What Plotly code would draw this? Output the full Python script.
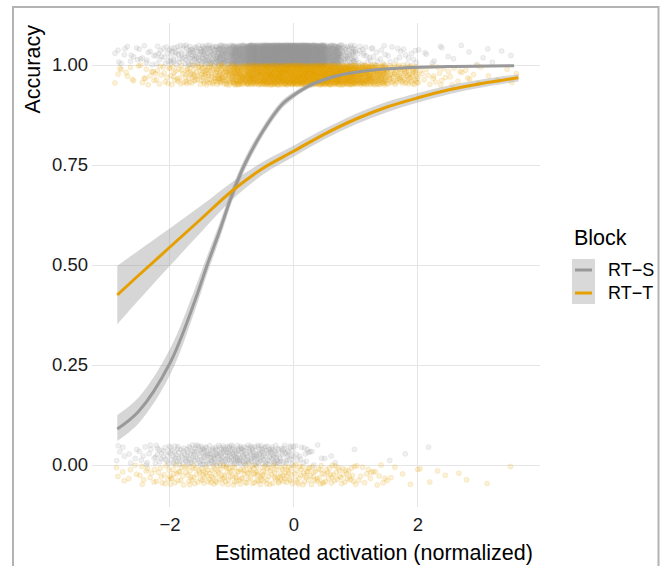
import plotly.graph_objects as go

# ---------------- data ----------------
# fitted curves (probability of a correct answer) with confidence band
rts_x  = [-2.85, -2.5, -2.0, -1.6, -1.4, -1.2, -1.0, -0.8, -0.5, -0.2, 0.0, 0.3, 0.7, 1.2, 1.8, 2.5, 3.55]
rts_y  = [0.090, 0.135, 0.255, 0.410, 0.500, 0.585, 0.675, 0.750, 0.835, 0.900, 0.925, 0.952, 0.973, 0.986, 0.993, 0.996, 0.998]
rts_lo = [0.060, 0.105, 0.225, 0.385, 0.478, 0.565, 0.658, 0.735, 0.823, 0.890, 0.917, 0.946, 0.969, 0.983, 0.991, 0.994, 0.996]
rts_hi = [0.125, 0.170, 0.290, 0.440, 0.523, 0.605, 0.692, 0.765, 0.847, 0.910, 0.933, 0.958, 0.977, 0.989, 0.995, 0.998, 0.999]

rtt_x  = [-2.85, -2.5, -2.0, -1.5, -1.0, -0.5, 0.0, 0.5, 1.0, 1.5, 2.0, 2.5, 3.0, 3.62]
rtt_y  = [0.425, 0.475, 0.545, 0.615, 0.685, 0.742, 0.785, 0.828, 0.865, 0.895, 0.918, 0.938, 0.953, 0.968]
rtt_lo = [0.352, 0.413, 0.498, 0.582, 0.663, 0.726, 0.771, 0.815, 0.852, 0.882, 0.906, 0.927, 0.943, 0.959]
rtt_hi = [0.498, 0.537, 0.592, 0.648, 0.707, 0.758, 0.799, 0.841, 0.878, 0.908, 0.930, 0.949, 0.963, 0.977]

# raw trials: counts per activation bin (estimated from the point clouds)
bin_edges = [-2.9, -2.5, -2.25, -2.0, -1.75, -1.5, -1.25, -1.0, -0.75, -0.5, -0.25,
             0.0, 0.25, 0.5, 0.75, 1.0, 1.25, 1.5, 2.0, 2.5, 3.0, 3.6]
rts_correct_counts = [12, 10, 14, 25, 38, 55, 85, 150, 300, 450, 500, 480, 360, 140, 45, 15, 10, 15, 8, 4, 5]
rts_error_counts   = [9, 10, 18, 26, 32, 38, 40, 42, 40, 36, 28, 12, 6, 2, 1, 0, 0, 2, 1, 0, 0]
rtt_correct_counts = [10, 10, 12, 18, 28, 40, 60, 100, 130, 150, 160, 165, 165, 160, 145, 115, 85, 80, 18, 12, 6]
rtt_error_counts   = [8, 9, 12, 16, 18, 22, 22, 22, 22, 22, 22, 20, 19, 17, 16, 9, 7, 6, 4, 2, 2]

blocks = ["RT\u2212S", "RT\u2212T"]
tick_x = [-2, 0, 2]
tick_y = [0, 0.25, 0.5, 0.75, 1.0]

# ---------------- styles ----------------
GREY = "#999999"
ORANGE = "#E69F00"
FONT = "Liberation Sans, Arial, Helvetica, sans-serif"


def vdc(n, base):
    q, denom = 0.0, 1.0
    while n:
        n, r = divmod(n, base)
        denom *= base
        q += r / denom
    return q


def strip(counts, accuracy, y_shift, seed):
    """spread the counted trials over each bin (deterministic jitter)."""
    xs, ys = [], []
    k = seed
    for i, c in enumerate(counts):
        lo, hi = bin_edges[i], bin_edges[i + 1]
        for _ in range(c):
            k += 1
            xs.append(lo + (hi - lo) * vdc(k, 2))
            ys.append(accuracy + y_shift + 0.05 * vdc(k, 3))
    return xs, ys


def pts(xs, ys, rgb, name):
    col = f"rgba({rgb},0.15)"
    return go.Scatter(x=xs, y=ys, mode="markers", name=name, showlegend=False,
                      hoverinfo="skip",
                      marker=dict(size=5, color=col, line=dict(width=1, color=col)))


fig = go.Figure()

# points
gx, gy = strip(rts_correct_counts, 1, 0.0, 11)
fig.add_trace(pts(gx, gy, "153,153,153", blocks[0]))
gx, gy = strip(rts_error_counts, 0, 0.0, 5011)
fig.add_trace(pts(gx, gy, "153,153,153", blocks[0]))
ox, oy = strip(rtt_correct_counts, 1, -0.05, 2011)
fig.add_trace(pts(ox, oy, "230,159,0", blocks[1]))
ox, oy = strip(rtt_error_counts, 0, -0.05, 7011)
fig.add_trace(pts(ox, oy, "230,159,0", blocks[1]))


def band(x, lo, hi, y, color, name):
    fig.add_trace(go.Scatter(x=x, y=lo, mode="lines", line=dict(width=0, shape="spline"),
                             showlegend=False, hoverinfo="skip"))
    fig.add_trace(go.Scatter(x=x, y=hi, mode="lines", line=dict(width=0, shape="spline"),
                             fill="tonexty", fillcolor="rgba(153,153,153,0.4)",
                             showlegend=False, hoverinfo="skip"))
    fig.add_trace(go.Scatter(x=x, y=y, mode="lines", name=name, showlegend=False,
                             line=dict(color=color, width=3, shape="spline")))


band(rts_x, rts_lo, rts_hi, rts_y, GREY, blocks[0])
band(rtt_x, rtt_lo, rtt_hi, rtt_y, ORANGE, blocks[1])

# panel geometry (pixels)
L, R, T, B = 92, 540, 23, 507
W, H = R - L, B - T


def px(xp):
    return (xp - L) / W


def py(yp):
    return (B - yp) / H


shapes = [
    # outer frame
    dict(type="rect", xref="paper", yref="paper", x0=px(13), x1=px(658.5), y0=py(580), y1=py(7),
         line=dict(color="#b3b3b3", width=2), fillcolor="rgba(0,0,0,0)", layer="above"),
    # legend key background
    dict(type="rect", xref="paper", yref="paper", x0=px(572), x1=px(595), y0=py(304), y1=py(259),
         line=dict(width=0), fillcolor="#d9d9d9"),
    dict(type="line", xref="paper", yref="paper", x0=px(575), x1=px(592), y0=py(270), y1=py(270),
         line=dict(color=GREY, width=3)),
    dict(type="line", xref="paper", yref="paper", x0=px(575), x1=px(592), y0=py(293), y1=py(293),
         line=dict(color=ORANGE, width=3)),
]

annotations = [
    dict(text="Accuracy", xref="paper", yref="paper", x=px(32), y=py(23), xanchor="center",
         yanchor="top", textangle=-90, showarrow=False, font=dict(size=21.5, color="black")),
    dict(text="Estimated activation (normalized)", xref="paper", yref="paper", x=px(535), y=py(553),
         xanchor="right", yanchor="middle", showarrow=False, font=dict(size=21.5, color="black")),
    dict(text="Block", xref="paper", yref="paper", x=px(572), y=py(238), xanchor="left",
         yanchor="middle", showarrow=False, font=dict(size=21.5, color="black")),
    dict(text=blocks[0], xref="paper", yref="paper", x=px(606), y=py(270), xanchor="left",
         yanchor="middle", showarrow=False, font=dict(size=18, color="black")),
    dict(text=blocks[1], xref="paper", yref="paper", x=px(606), y=py(293), xanchor="left",
         yanchor="middle", showarrow=False, font=dict(size=18, color="black")),
]

fig.update_layout(
    width=665, height=566,
    margin=dict(l=L, r=665 - R, t=T, b=566 - B),
    paper_bgcolor="white", plot_bgcolor="white",
    font=dict(family=FONT, size=18, color="black"),
    showlegend=False,
    shapes=shapes, annotations=annotations,
    xaxis=dict(range=[-3.258, 3.968], tickvals=tick_x, showgrid=True, gridcolor="#e5e5e5",
               gridwidth=1, zeroline=False, showline=False, ticks="", ticklabelstandoff=4,
               tickfont=dict(size=18.5, color="#1a1a1a")),
    yaxis=dict(range=[-0.105, 1.105], tickvals=tick_y, tickformat=".2f", showgrid=True,
               gridcolor="#e5e5e5", gridwidth=1, zeroline=False, showline=False, ticks="",
               ticklabelstandoff=3, tickfont=dict(size=18.5, color="#1a1a1a")),
)

fig.write_html("out.html", config={"displayModeBar": False},
               post_script="document.body.style.margin='0';document.body.style.padding='0';")
